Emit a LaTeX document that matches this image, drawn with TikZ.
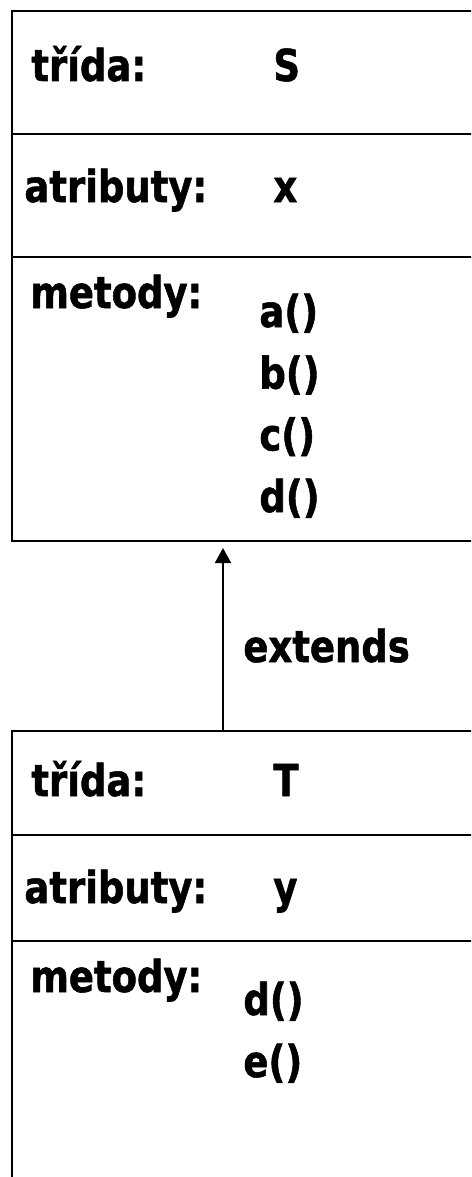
\documentclass[tikz,border=0pt]{standalone}
\usepackage{fontspec}
\setmainfont{DejaVu Sans}[FakeStretch=0.84, BoldFeatures={FakeBold=1.2}]
\usetikzlibrary{arrows.meta}

\tikzset{
    lbl/.style = {font=\bfseries\fontsize{22}{26}\selectfont, inner sep=0pt, anchor=base west},
    classbox/.style = {draw, line width=0.9pt, inner sep=0pt, anchor=north west, minimum width=260pt},
    divider/.style = {line width=0.9pt},
    extarrow/.style = {-{Triangle[width=8pt,length=7.5pt]}, line width=0.9pt, shorten >=4pt}
}

\begin{document}
\begin{tikzpicture}[x=0.5pt, y=-0.5pt]
            % \draw[style = help lines] (0,0) grid (471,1177);
            \useasboundingbox (0,0) rectangle (471,1177);
            \clip (0,0) rectangle (471,1177);

            % class S
            \node[classbox, minimum height=265pt] (S) at (11,10) {};
            \draw[divider] (11,134) -- (530,134);
            \draw[divider] (11,257) -- (530,257);
            \node[lbl] (Sclass) at (31,81) {třída:};
            \node[lbl] (Sname) at (273,81) {S};
            \node[lbl] (Sattr) at (24,202) {atributy:};
            \node[lbl] (Sx) at (273,202) {x};
            \node[lbl] (Smeth) at (30,308) {metody:};
            \foreach \m [count=\i] in {a,b,c,d}
                \node[lbl] (Sm\i) at (259,{327+61.7*(\i-1)}) {\m()};

            % class T
            \node[classbox, minimum height=260pt] (T) at (11,730) {};
            \draw[divider] (11,835) -- (530,835);
            \draw[divider] (11,941) -- (530,941);
            \node[lbl] (Tclass) at (31,796) {třída:};
            \node[lbl] (Tname) at (273,796) {T};
            \node[lbl] (Tattr) at (24,903) {atributy:};
            \node[lbl] (Ty) at (273,903) {y};
            \node[lbl] (Tmeth) at (30,992) {metody:};
            \foreach \m [count=\i] in {d,e}
                \node[lbl] (Tm\i) at (243,{1015+62*(\i-1)}) {\m()};

            % extends
            \coordinate (Sbase) at (223,540);
            \coordinate (Ttop) at (223,730);
            \draw[extarrow] (Ttop) -- (Sbase);
            \node[lbl] (ext) at (243,662) {extends};
        \end{tikzpicture}
\end{document}
